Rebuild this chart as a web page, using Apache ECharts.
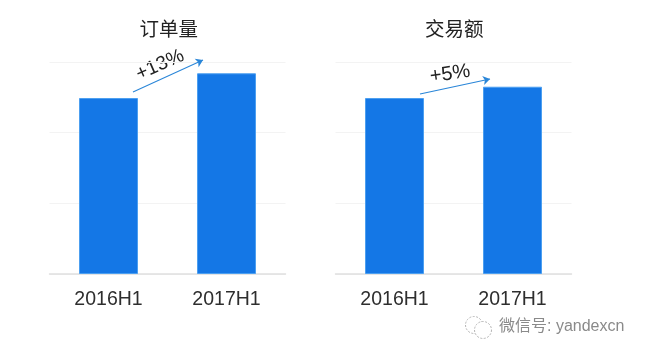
<!DOCTYPE html>
<html>
<head>
<meta charset="utf-8">
<style>
  html, body { margin: 0; padding: 0; background: #fff; }
  #chart { width: 647px; height: 357px; }
</style>
<script src="https://cdn.jsdelivr.net/npm/echarts@6/dist/echarts.min.js"></script>
</head>
<body>
<div id="chart"></div>
<script>
const categories = ['2016H1', '2017H1'];
const orderValues = [2.49, 2.84];
const tradeValues = [2.49, 2.65];
const chartTitles = ['订单量', '交易额'];
const growthLabels = ['+13%', '+5%'];
const watermark = '微信号: yandexcn';

const font = '"Liberation Sans", "Noto Sans CJK SC", sans-serif';
const blue = '#1477e6';

function panel(index, values, arrow) {
  return {
    type: 'bar',
    xAxisIndex: index,
    yAxisIndex: index,
    data: values,
    barWidth: 59,
    itemStyle: { color: blue, borderColor: '#4c9ff0', borderWidth: 1 },
    silent: true,
    markLine: {
      silent: true,
      animation: false,
      symbol: ['none', 'arrow'],
      symbolSize: 7,
      label: { show: false },
      lineStyle: { color: '#2a86d8', width: 1.2, type: 'solid' },
      data: [arrow],
    },
  };
}

const chart = echarts.init(document.getElementById('chart'), null, { renderer: 'canvas' });
const grids = [
  { left: 49.5, width: 236, top: 62, height: 212 },
  { left: 335.5, width: 236, top: 62, height: 212 },
];

chart.setOption({
  animation: false,
  backgroundColor: '#fff',
  title: chartTitles.map((text, i) => ({
    text,
    left: i === 0 ? 134.5 : 420,
    top: 16,
    textStyle: { fontFamily: font, fontSize: 19.5, fontWeight: 'normal', color: '#222' },
  })),
  grid: grids,
  xAxis: grids.map((g, i) => ({
    type: 'category',
    gridIndex: i,
    data: categories,
    axisTick: { show: false },
    axisLine: { lineStyle: { color: '#dfdfdf', width: 1.5 } },
    axisLabel: { fontFamily: font, fontSize: 19.5, color: '#2e2e2e', margin: 16 },
  })),
  yAxis: grids.map((g, i) => ({
    type: 'value',
    gridIndex: i,
    min: 0,
    max: 3,
    interval: 1,
    axisLine: { show: false },
    axisTick: { show: false },
    axisLabel: { show: false },
    splitLine: { lineStyle: { color: '#f3f3f3', width: 1 } },
  })),
  series: [
    panel(0, orderValues, [{ x: 133, y: 92 }, { x: 203, y: 60 }]),
    panel(1, tradeValues, [{ x: 420, y: 94 }, { x: 490, y: 79 }]),
  ],
  graphic: [
    {
      type: 'text',
      x: 160,
      y: 65,
      rotation: 24 * Math.PI / 180,
      style: {
        text: growthLabels[0],
        font: '19.5px ' + font,
        fill: '#222',
        textAlign: 'center',
        textVerticalAlign: 'middle',
      },
    },
    {
      type: 'text',
      x: 450,
      y: 74,
      rotation: 8 * Math.PI / 180,
      style: {
        text: growthLabels[1],
        font: '20px ' + font,
        fill: '#222',
        textAlign: 'center',
        textVerticalAlign: 'middle',
      },
    },
    {
      type: 'text',
      x: 499,
      y: 327,
      style: {
        text: watermark,
        font: '16px ' + font,
        fill: '#8a8a8a',
        textAlign: 'left',
        textVerticalAlign: 'middle',
      },
    },
    // wechat logo outline
    {
      type: 'circle',
      shape: { cx: 474, cy: 325, r: 8.5 },
      style: { fill: 'none', stroke: '#b5b5b5', lineWidth: 1, lineDash: [2, 1.5] },
    },
    {
      type: 'circle',
      shape: { cx: 483, cy: 330, r: 8.5 },
      style: { fill: '#fff', stroke: '#b5b5b5', lineWidth: 1, lineDash: [2, 1.5] },
    },
  ],
});
</script>
</body>
</html>
